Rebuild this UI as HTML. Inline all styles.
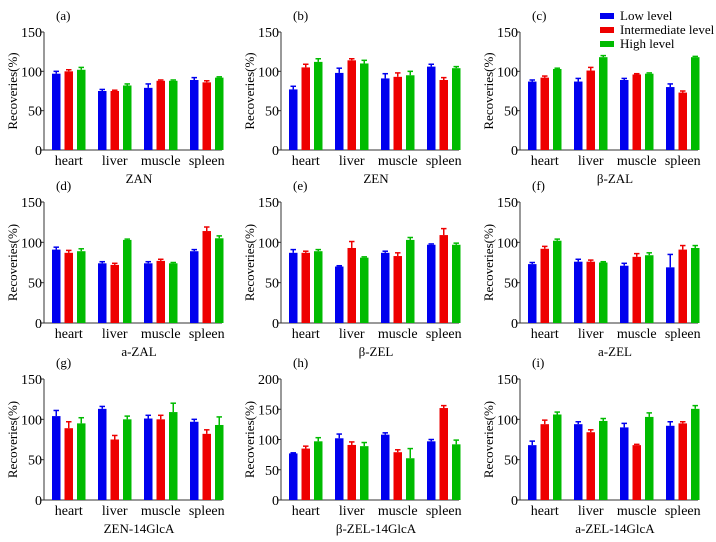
<!DOCTYPE html>
<html><head><meta charset="utf-8"><style>
body{margin:0;background:#fff;width:716px;height:542px;overflow:hidden}
svg{display:block}
text{font-family:"Liberation Serif","DejaVu Serif",serif}
</style></head><body>
<svg id="chart" width="716" height="542" viewBox="0 0 716 542" font-family="Liberation Serif, serif"></svg>
<script>
const categories=["heart","liver","muscle","spleen"];
const panelLetters=["(a)","(b)","(c)","(d)","(e)","(f)","(g)","(h)","(i)"];
const panelTitles=["ZAN","ZEN","β-ZAL","a-ZAL","β-ZEL","a-ZEL","ZEN-14GlcA","β-ZEL-14GlcA","a-ZEL-14GlcA"];
const yMaxes=[150,150,150,150,150,150,150,200,150];
const lowLevel=[[97,75,79,89],[77,98,91,106],[87,87,89,80],[91,74,74,89],[87,70,87,97],[73,76,71,69],[104,113,101,97],[77,102,108,97],[68,94,90,92]];
const intermediateLevel=[[100,75,88,86],[105,114,93,89],[92,101,96,73],[87,72,77,114],[87,93,83,109],[92,76,82,91],[89,75,100,82],[85,91,79,152],[94,84,68,95]];
const highLevel=[[102,82,88,92],[112,110,95,104],[103,118,97,118],[89,103,74,105],[89,81,103,97],[102,75,84,93],[95,100,109,93],[97,89,69,92],[106,98,103,113]];
const lowErr=[[3,2,5,3],[4,6,6,3],[2,4,2,4],[3,2,2,2],[4,1,2,1],[2,3,3,16],[7,3,4,3],[1,7,3,3],[5,3,5,5]];
const midErr=[[2,1,1,2],[4,2,5,3],[2,4,1,2],[3,2,2,5],[2,8,4,8],[3,2,4,5],[8,5,5,5],[4,5,4,4],[5,3,1,2]];
const highErr=[[3,2,1,1],[4,4,5,2],[1,2,1,1],[3,1,1,3],[2,1,3,2],[2,1,3,3],[7,4,11,10],[6,6,16,7],[3,3,5,4]];
const seriesNames=["Low level","Intermediate level","High level"];
const colors=["#0000ee","#ee0000","#00bb00"];
const NS="http://www.w3.org/2000/svg";
const svg=document.getElementById('chart');
function mk(t,a,p){const e=document.createElementNS(NS,t);for(const k in a)e.setAttribute(k,a[k]);if(t==='text')e.setAttribute('font-family','Liberation Serif, serif');(p||svg).appendChild(e);return e;}
const colX=[44,281,520], rowTop=[32,202,379], rowBot=[150,323,500];
const series=[lowLevel,intermediateLevel,highLevel], errs=[lowErr,midErr,highErr];
for(let p=0;p<9;p++){
  const c=p%3,r=Math.floor(p/3),x0=colX[c],top=rowTop[r],bot=rowBot[r],ymax=yMaxes[p];
  const g=mk('g',{});
  
  
  const yS=v=>bot-(v/ymax)*(bot-top);
  const xS=(ci,si)=>x0+8+ci*46+si*12.5;
  const lt=mk('text',{x:x0+12,y:top-12,'font-size':13},g);lt.textContent=panelLetters[p];
  
  const ax=mk('line',{x1:x0,y1:top,x2:x0,y2:bot,stroke:'#333','stroke-width':1},g);
  
  const bx=mk('line',{x1:x0,y1:bot,x2:x0+178,y2:bot,stroke:'#333','stroke-width':1},g);
  
  for(let t=0;t<=ymax;t+=50){
    const y=yS(t);
    mk('line',{x1:x0-3,y1:y,x2:x0,y2:y,stroke:'#333'},g);
    const tt=mk('text',{x:x0-2,y:y+5,'font-size':14,'text-anchor':'end'},g);tt.textContent=t;
    
  }
  const yt=mk('text',{x:0,y:0,'font-size':13,'text-anchor':'middle',transform:`translate(${x0-27},${(top+bot)/2}) rotate(-90)`},g);
  yt.textContent='Recoveries(%)';
  
  for(let ci=0;ci<4;ci++){
    for(let si=0;si<3;si++){
      const v=series[si][p][ci],e=errs[si][p][ci],bxp=xS(ci,si);
      const b=mk('rect',{x:bxp,y:yS(v),width:8.5,height:bot-yS(v),fill:colors[si]},g);
      
      
      const ye=yS(v+e);
      mk('line',{x1:bxp+4.25,y1:yS(v),x2:bxp+4.25,y2:ye,stroke:colors[si],'stroke-width':1.5},g);
      mk('line',{x1:bxp+1.5,y1:ye,x2:bxp+7,y2:ye,stroke:colors[si],'stroke-width':1.5},g);
    }
    const cl=mk('text',{x:xS(ci,1)+4.25,y:bot+15,'font-size':14,'text-anchor':'middle'},g);
    cl.textContent=categories[ci];
    
  }
  const pt=mk('text',{x:x0+95,y:bot+33,'font-size':13,'text-anchor':'middle'},g);pt.textContent=panelTitles[p];
  
}
const lg=mk('g',{});


for(let i=0;i<3;i++){
  mk('rect',{x:600,y:13+i*14,width:14,height:6,fill:colors[i]},lg);
  const t=mk('text',{x:620,y:20+i*14,'font-size':13},lg);t.textContent=seriesNames[i];
  
}
</script>
</body></html>
